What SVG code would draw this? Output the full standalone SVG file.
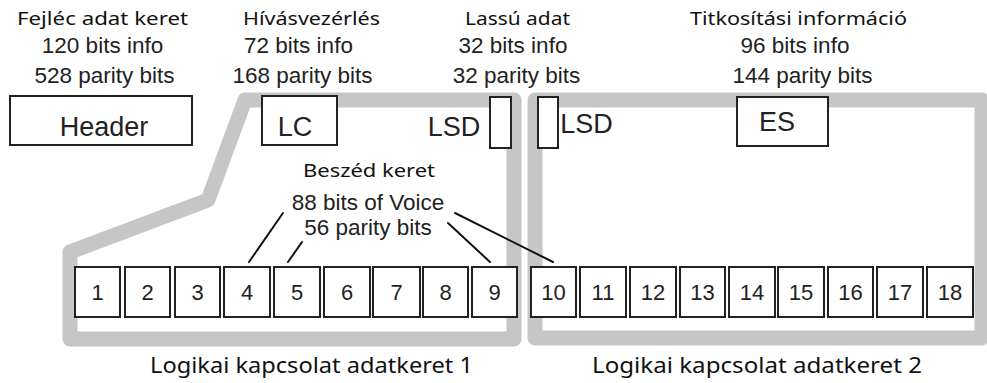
<svg xmlns="http://www.w3.org/2000/svg" width="987" height="383" viewBox="0 0 987 383">
  <style>
    .frame { fill: none; stroke: #c6c6c6; stroke-width: 15; stroke-linejoin: round; }
    .box { fill: #ffffff; stroke: #222222; stroke-width: 2; }
    .cell { fill: #ffffff; stroke: #222222; stroke-width: 2; }
    .lbl { font-family: "Liberation Sans", Arial, sans-serif; fill: #222222; text-anchor: middle; }
    .big { font-size: 27px; }
    .info { font-size: 22.5px; }
    .num { font-size: 22px; }
    .hand { font-family: "Comic Sans MS", "Noto Sans", "DejaVu Sans", sans-serif; fill: #111111; text-anchor: middle; }
    .conn { stroke: #111111; stroke-width: 2; fill: none; stroke-linecap: round; }
  </style>

  <rect x="0" y="0" width="987" height="383" fill="#ffffff"/>

  <!-- logical link data frames (grey outlines) -->
  <g id="frame-ldu1">
    <path class="frame" d="M245,100 L514,100 L514,339 L70,339 L70,252 L208,200 Z"/>
    <text class="hand" x="311.5" y="373" font-size="22" textLength="323" lengthAdjust="spacingAndGlyphs">Logikai kapcsolat adatkeret 1</text>
  </g>
  <g id="frame-ldu2">
    <path class="frame" d="M535,100 L982,100 L982,338 L535,338 Z"/>
    <text class="hand" x="757" y="373" font-size="22" textLength="330" lengthAdjust="spacingAndGlyphs">Logikai kapcsolat adatkeret 2</text>
  </g>

  <!-- header -->
  <g id="header">
    <text class="hand" x="102.5" y="25" font-size="18" textLength="171" lengthAdjust="spacingAndGlyphs">Fejléc adat keret</text>
    <text class="lbl info" x="102.5" y="53">120 bits info</text>
    <text class="lbl info" x="104.5" y="83">528 parity bits</text>
    <rect class="box" x="10" y="96" width="182" height="49"/>
    <text class="lbl big" x="104" y="136">Header</text>
  </g>

  <!-- link control -->
  <g id="lc">
    <text class="hand" x="311.5" y="25" font-size="18" textLength="137" lengthAdjust="spacingAndGlyphs">Hívásvezérlés</text>
    <text class="lbl info" x="298.5" y="53">72 bits info</text>
    <text class="lbl info" x="302.5" y="83">168 parity bits</text>
    <rect class="box" x="262" y="96" width="75" height="49"/>
    <text class="lbl big" x="295" y="136">LC</text>
  </g>

  <!-- low speed data -->
  <g id="lsd">
    <text class="hand" x="517.5" y="25" font-size="18" textLength="105" lengthAdjust="spacingAndGlyphs">Lassú adat</text>
    <text class="lbl info" x="513" y="53">32 bits info</text>
    <text class="lbl info" x="516.5" y="83">32 parity bits</text>
    <rect class="box" x="490" y="97" width="21" height="51"/>
    <text class="lbl big" x="454" y="136">LSD</text>
    <rect class="box" x="538" y="97" width="20" height="51"/>
    <text class="lbl big" x="586.5" y="133">LSD</text>
  </g>

  <!-- encryption sync -->
  <g id="es">
    <text class="hand" x="798.5" y="25" font-size="18" textLength="217" lengthAdjust="spacingAndGlyphs">Titkosítási információ</text>
    <text class="lbl info" x="795" y="53">96 bits info</text>
    <text class="lbl info" x="802.5" y="83">144 parity bits</text>
    <rect class="box" x="737" y="97" width="91" height="49"/>
    <text class="lbl big" x="777" y="131">ES</text>
  </g>

  <!-- voice frame label -->
  <g id="voice">
    <text class="hand" x="369" y="177" font-size="18" textLength="132" lengthAdjust="spacingAndGlyphs">Beszéd keret</text>
    <text class="lbl info" x="368" y="210">88 bits of Voice</text>
    <text class="lbl info" x="368" y="235">56 parity bits</text>
  </g>

  <!-- connectors from voice label to frames -->
  <g id="connectors">
    <line class="conn" x1="283" y1="213" x2="249" y2="262"/>
    <line class="conn" x1="302" y1="242" x2="288" y2="262"/>
    <line class="conn" x1="448" y1="223" x2="490" y2="262"/>
    <line class="conn" x1="455" y1="213" x2="553" y2="262"/>
  </g>

  <!-- voice frames 1-18 -->
  <g id="cell-1"><rect class="cell" x="75" y="267" width="45" height="50"/><text class="lbl num" x="97.5" y="300">1</text></g>
  <g id="cell-2"><rect class="cell" x="125" y="267" width="45" height="50"/><text class="lbl num" x="147.5" y="300">2</text></g>
  <g id="cell-3"><rect class="cell" x="175" y="267" width="45" height="50"/><text class="lbl num" x="197.5" y="300">3</text></g>
  <g id="cell-4"><rect class="cell" x="224" y="267" width="46" height="50"/><text class="lbl num" x="247" y="300">4</text></g>
  <g id="cell-5"><rect class="cell" x="274" y="267" width="46" height="50"/><text class="lbl num" x="297" y="300">5</text></g>
  <g id="cell-6"><rect class="cell" x="324" y="267" width="46" height="50"/><text class="lbl num" x="347" y="300">6</text></g>
  <g id="cell-7"><rect class="cell" x="373" y="267" width="47" height="50"/><text class="lbl num" x="396.5" y="300">7</text></g>
  <g id="cell-8"><rect class="cell" x="423" y="267" width="45" height="50"/><text class="lbl num" x="445.5" y="300">8</text></g>
  <g id="cell-9"><rect class="cell" x="472" y="267" width="45" height="50"/><text class="lbl num" x="494.5" y="300">9</text></g>
  <g id="cell-10"><rect class="cell" x="531" y="267" width="45" height="50"/><text class="lbl num" x="553.5" y="300">10</text></g>
  <g id="cell-11"><rect class="cell" x="580" y="267" width="46" height="50"/><text class="lbl num" x="603" y="300">11</text></g>
  <g id="cell-12"><rect class="cell" x="630" y="267" width="46" height="50"/><text class="lbl num" x="653" y="300">12</text></g>
  <g id="cell-13"><rect class="cell" x="680" y="267" width="45" height="50"/><text class="lbl num" x="702.5" y="300">13</text></g>
  <g id="cell-14"><rect class="cell" x="729" y="267" width="46" height="50"/><text class="lbl num" x="752" y="300">14</text></g>
  <g id="cell-15"><rect class="cell" x="778" y="267" width="46" height="50"/><text class="lbl num" x="801" y="300">15</text></g>
  <g id="cell-16"><rect class="cell" x="828" y="267" width="45" height="50"/><text class="lbl num" x="850.5" y="300">16</text></g>
  <g id="cell-17"><rect class="cell" x="877" y="267" width="46" height="50"/><text class="lbl num" x="900" y="300">17</text></g>
  <g id="cell-18"><rect class="cell" x="927" y="267" width="46" height="50"/><text class="lbl num" x="950" y="300">18</text></g>
</svg>
